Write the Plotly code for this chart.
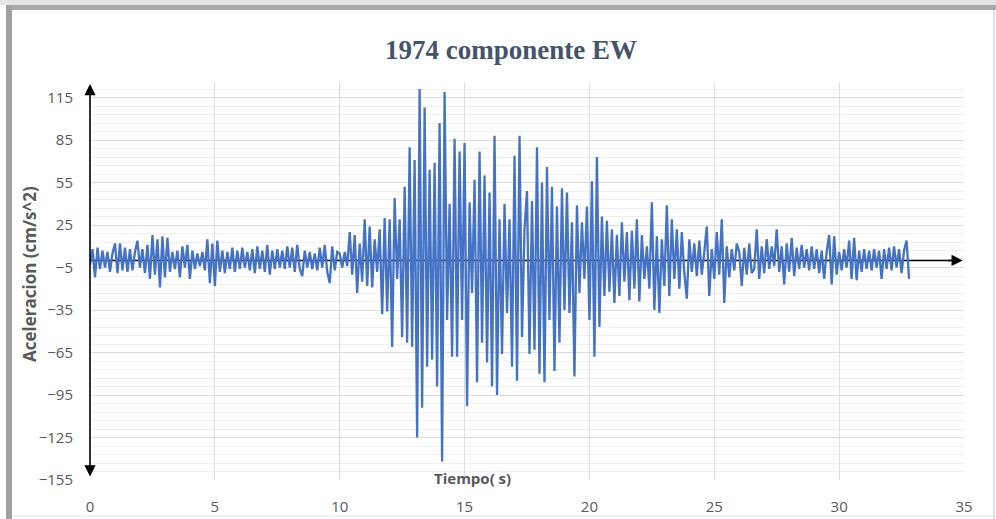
import numpy as np
import plotly.graph_objects as go

# ---------------- data ----------------
DT = 0.1  # s, sampling step of the digitised record
accel = [
    -3, 8, -12, 9, -6, 7, -5, 6, -8, 5,            # 0 s
    12, -9, 12, -7, 9, -8, 8, -7, 6, 14,           # 1 s
    -5, 8, -9, 11, -13, 18, -10, 15, -19, 17,      # 2 s
    -12, 16, -8, 6, -6, 7, -12, 10, -5, 11,        # 3 s
    -13, 7, -6, 5, -4, 6, -7, 15, -16, 12,         # 4 s
    -18, 14, -8, 7, -9, 6, -6, 9, -8, 7,           # 5 s
    -6, 9, -5, 6, -7, 8, -9, 10, -6, 7,            # 6 s
    -8, 11, -10, 7, -6, 8, -5, 7, -6, 10,          # 7 s
    -5, 9, -8, 11, -6, -11, 7, -5, 6, -6,          # 8 s
    5, -7, 9, -5, 11, -8, -16, 10, -7, 6,          # 9 s
    5, -5, 6, -4, 20, -10, 18, -23, 12, -15,       # 10 s
    29, -18, 24, -19, 15, -8, 22, -38, 30, -36,    # 11 s
    29, -61, 44, -13, 29, -54, 52, -58, 80, -61,   # 12 s
    71, -125, 121, -104, 108, -75, 64, -70, 69, -89,   # 13 s
    97, -142, 119, -42, 40, -68, 86, -68, 77, -42,     # 14 s
    83, -103, 41, -23, 57, -86, 77, -58, 60, -72,      # 15 s
    48, -89, 88, -95, 29, -66, 40, -37, 29, -75,       # 16 s
    74, -85, 88, -54, 22, 49, -66, 42, -63, 80,        # 17 s
    -80, 55, -86, 66, -42, 52, -78, 38, -58, 51,       # 18 s
    -35, 48, -37, 27, -82, 39, -23, 27, -13, 38,       # 19 s
    -42, 56, -68, 73, -47, 31, -25, 28, -22, 22,       # 20 s
    -30, 18, -25, 27, -15, 20, -28, 21, -20, 29,       # 21 s
    -29, 18, -13, 10, -20, 41, -35, 17, -37, 15,       # 22 s
    -18, 39, -25, 29, -13, 22, -20, 20, -9, -27,       # 23 s
    15, -8, 12, -11, 14, -10, 6, 24, -25, 8,           # 24 s
    -13, 20, -10, 29, -30, 10, -12, 8, -7, 12,         # 25 s
    6, -18, 9, -10, 12, -9, -6, 22, -13, 10,           # 26 s
    -9, 15, -6, 10, -4, 22, -8, 10, -17, 12,           # 27 s
    -8, 16, -11, 9, -6, 11, -5, 8, -7, 10,             # 28 s
    -6, 8, -9, 7, -13, 6, 18, -17, 17, -10,            # 29 s
    6, -7, 8, -5, 14, -13, 16, -14, 7, -8,             # 30 s
    8, -6, 7, -7, 8, -5, 7, -13, 8, -6,                # 31 s
    9, -7, 10, -5, 8, -9, 7, 14, -13,                  # 32 s
]
time = np.round(np.arange(len(accel)) * DT, 2)

x_ticks = [0, 5, 10, 15, 20, 25, 30, 35]
y_tick_start, y_tick_step = -155, 30
y_minor_step = 6

title_text = "1974 componente EW"
y_title = "Aceleracion (cm/s^2)"
x_title = "Tiempo( s)"

# ---------------- layout helpers ----------------
W, H = 996, 519
L, R, T, B = 90, 32, 82, 39
PW, PH = W - L - R, H - T - B


def px(xp):
    return (xp - L) / PW


def py(yp):
    return (H - B - yp) / PH


tick_font = dict(family="Open Sans, Lato, sans-serif", size=15, color="#595959")
major_grid = "#D9DDE4"
minor_grid = "#EDEFF2"

fig = go.Figure()
fig.add_trace(go.Scatter(
    x=time, y=accel, mode="lines",
    line=dict(color="#4472C4", width=2.3),
    hoverinfo="skip", showlegend=False,
))

fig.update_layout(
    width=W, height=H,
    margin=dict(l=L, r=R, t=T, b=B, pad=0, autoexpand=False),
    paper_bgcolor="white", plot_bgcolor="white",
    showlegend=False,
    xaxis=dict(
        range=[0, 35], tickmode="array", tickvals=x_ticks,
        ticktext=[str(v) for v in x_ticks],
        showgrid=True, gridcolor=major_grid, gridwidth=1,
        zeroline=False, showline=False, ticks="", automargin=False,
        tickfont=tick_font, ticklabelstandoff=16,
    ),
    yaxis=dict(
        range=[-155, 126], tickmode="linear", tick0=y_tick_start, dtick=y_tick_step,
        showgrid=True, gridcolor=major_grid, gridwidth=1,
        minor=dict(tick0=y_tick_start, dtick=y_minor_step, showgrid=True,
                   gridcolor=minor_grid, gridwidth=1, ticks=""),
        zeroline=False, showline=False, ticks="", automargin=False,
        tickfont=tick_font, ticklabelstandoff=16,
    ),
)

shapes = [
    # horizontal axis line (behind the trace)
    dict(type="line", xref="x", yref="y", x0=0, x1=34.5, y0=0, y1=0,
         line=dict(color="black", width=1.6), layer="between"),
    # screenshot frame
    dict(type="rect", xref="paper", yref="paper", x0=px(0), x1=px(W), y0=py(5), y1=py(0),
         fillcolor="#E4E4E4", line=dict(width=0), layer="above"),
    dict(type="rect", xref="paper", yref="paper", x0=px(6), x1=px(W), y0=py(10), y1=py(5),
         fillcolor="#A9A9A9", line=dict(width=0), layer="above"),
    dict(type="rect", xref="paper", yref="paper", x0=px(6), x1=px(12), y0=py(H), y1=py(5),
         fillcolor="#A0A0A0", line=dict(width=0), layer="above"),
    dict(type="line", xref="paper", yref="paper", x0=px(994), x1=px(994), y0=py(H), y1=py(10),
         line=dict(color="#D6D6D6", width=1.5), layer="above"),
    dict(type="line", xref="paper", yref="paper", x0=px(12), x1=px(W), y0=py(516), y1=py(516),
         line=dict(color="#E2E2E2", width=1), layer="above"),
]
fig.update_layout(shapes=shapes)

annotations = [
    # arrow head of horizontal axis
    dict(x=34.95, y=0, ax=34.3, ay=0, xref="x", yref="y", axref="x", ayref="y",
         text="", showarrow=True, arrowhead=2, arrowsize=1.4, arrowwidth=1.6,
         arrowcolor="black"),
    # vertical axis with arrow heads on both ends
    dict(x=0, y=124.5, ax=0, ay=-153.5, xref="x", yref="y", axref="x", ayref="y",
         text="", showarrow=True, arrowhead=2, startarrowhead=2, arrowside="end+start",
         arrowsize=1.4, startarrowsize=1.4, arrowwidth=1.6, arrowcolor="black"),
    # title
    dict(x=px(511), y=py(50), xref="paper", yref="paper", text=f"<b>{title_text}</b>",
         showarrow=False, xanchor="center", yanchor="middle",
         font=dict(family="Liberation Serif, Times New Roman, serif", size=27, color="#44546A")),
    # y axis title
    dict(x=px(29), y=py(274), xref="paper", yref="paper", text=f"<b>{y_title}</b>",
         showarrow=False, xanchor="center", yanchor="middle", textangle=-90,
         font=dict(family="Open Sans, Lato, sans-serif", size=17, color="#595959")),
    # x axis title
    dict(x=px(472), y=py(478), xref="paper", yref="paper", text=f"<b>{x_title}</b>",
         showarrow=False, xanchor="center", yanchor="middle",
         font=dict(family="Open Sans, Lato, sans-serif", size=15, color="#595959")),
]
fig.update_layout(annotations=annotations)

fig.write_html("out.html")
